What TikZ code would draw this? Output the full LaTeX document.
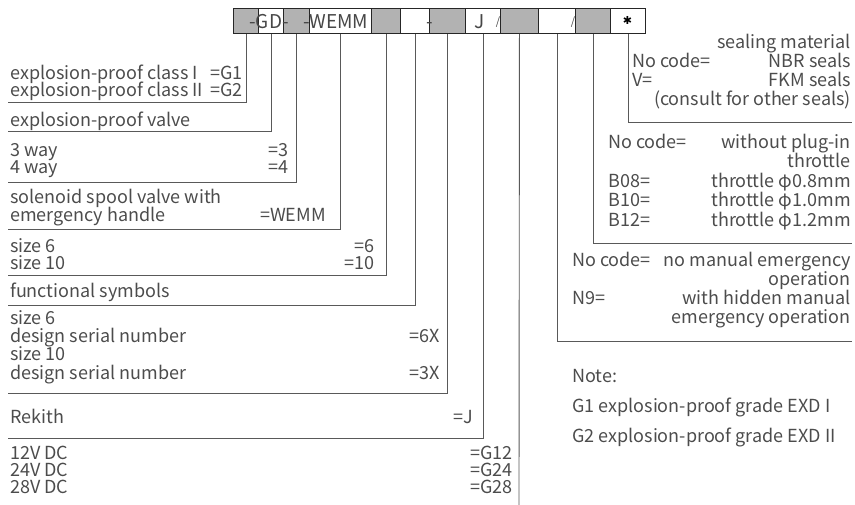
\documentclass[tikz,border=0pt]{standalone}
\usepackage{fontspec}
\setmainfont{Noto Sans CJK SC}
\newfontfamily\djv{DejaVu Sans}
\newcommand{\lbl}{\fontsize{18pt}{19pt}\selectfont}
\newcommand{\cfnt}{\fontsize{19pt}{20pt}\selectfont}
\begin{document}
\begin{tikzpicture}[x=1pt,y=-1pt,
  cell/.style={draw=black!85, line width=0.9pt, minimum height=25pt, inner sep=0pt, anchor=north west},
  cg/.style={cell, fill=gray!60},
  cw/.style={cell, fill=white},
  lead/.style={draw=black!65, line width=0.9pt},
  lt/.style={anchor=base west, inner sep=0pt, text=black!70, font=\lbl},
  rt/.style={anchor=base east, inner sep=0pt, text=black!70, font=\lbl},
  ct/.style={anchor=base, inner sep=0pt, text=black!72, font=\cfnt},
]
\useasboundingbox (0,0) rectangle (855,505);
% code row
\node[cg, minimum width=25pt] (c1) at (233,8) {};
\node[cw, minimum width=25pt] (c2) at (258,8) {};
\node[cg, minimum width=26pt] (c3) at (283,8) {};
\node[cw, minimum width=62pt] (c4) at (309,8) {};
\node[cg, minimum width=29pt] (c5) at (371,8) {};
\node[cw, minimum width=29pt] (c6) at (400,8) {};
\node[cg, minimum width=36pt] (c7) at (429,8) {};
\node[cw, minimum width=35pt] (c8) at (465,8) {};
\node[cg, minimum width=38pt] (c9) at (500,8) {};
\node[cw, minimum width=37pt] (c10) at (538,8) {};
\node[cg, minimum width=35pt] (c11) at (575,8) {};
\node[cw, minimum width=35pt] (c12) at (610,8) {};
% cell texts
\node[ct] (k2) at (269,29) {-GD-};
\node[ct, anchor=base west] (k4) at (303,29) {-WEMM};
\node[ct] (k6) at (430,29) {-};
\node[ct] (k8) at (480,29) {J};
\node[ct, font=\fontsize{11pt}{12pt}\selectfont] (k8s) at (498,26) {/};
\node[ct, font=\fontsize{11pt}{12pt}\selectfont] (k10s) at (573,26) {/};
\node[anchor=center, inner sep=0pt, font=\djv\fontsize{11pt}{12pt}\selectfont] (k12) at (627.5,20.5) {✱};
% leads
\coordinate (L1) at (8,102);
\coordinate (L2) at (8,131);
\coordinate (L3) at (8,182);
\coordinate (L4) at (8,229);
\coordinate (L5) at (8,275);
\coordinate (L6) at (8,305);
\coordinate (L7) at (8,393);
\coordinate (L8) at (8,438);
\coordinate (L9) at (519,505);
\coordinate (R10) at (852,341);
\coordinate (R11) at (852,243);
\coordinate (R12) at (852,122);
\draw[lead] (c1.south) |- (L1);
\draw[lead] (c2.south) |- (L2);
\draw[lead] (c3.south) |- (L3);
\draw[lead] (c4.south) |- (L4);
\draw[lead] (c5.south) |- (L5);
\draw[lead] (c6.south) |- (L6);
\draw[lead] (c7.south) |- (L7);
\draw[lead] (c8.south) |- (L8);
\draw[lead] (c9.south) -- (L9);
\draw[lead] (c10.south) |- (R10);
\draw[lead] (c11.south) |- (R11);
\draw[lead] (c12.south) |- (R12);
% left texts
\node[lt] (a1) at (10,80) {explosion-proof class I};
\node[rt] (a1c) at (243,80) {=G1};
\node[lt] (a2) at (10,97) {explosion-proof class II};
\node[rt] (a2c) at (243,97) {=G2};
\node[lt] (b1) at (10,127) {explosion-proof valve};
\node[lt] (d1) at (10,157) {3 way};
\node[rt] (d1c) at (289,157) {=3};
\node[lt] (d2) at (10,174) {4 way};
\node[rt] (d2c) at (289,174) {=4};
\node[lt] (e1) at (10,204) {solenoid spool valve with};
\node[lt] (e2) at (10,222) {emergency handle};
\node[rt] (e2c) at (326,222) {=WEMM};
\node[lt] (f1) at (10,253) {size 6};
\node[rt] (f1c) at (375,253) {=6};
\node[lt] (f2) at (10,270) {size 10};
\node[rt] (f2c) at (375,270) {=10};
\node[lt] (g1) at (10,298) {functional symbols};
\node[lt] (h1) at (10,325) {size 6};
\node[lt] (h2) at (10,343) {design serial number};
\node[rt] (h2c) at (440,343) {=6X};
\node[lt] (h3) at (10,361) {size 10};
\node[lt] (h4) at (10,380) {design serial number};
\node[rt] (h4c) at (440,380) {=3X};
\node[lt] (i1) at (10,423) {Rekith};
\node[rt] (i1c) at (473,423) {=J};
\node[lt] (j1) at (10,459) {12V DC};
\node[rt] (j1c) at (513,459) {=G12};
\node[lt] (j2) at (10,476) {24V DC};
\node[rt] (j2c) at (513,476) {=G24};
\node[lt] (j3) at (10,493) {28V DC};
\node[rt] (j3c) at (513,493) {=G28};
% right texts: sealing
\node[rt] (s0) at (851,49) {sealing material};
\node[lt] (s1) at (632,68) {No code=};
\node[rt] (s1r) at (851,68) {NBR seals};
\node[lt] (s2) at (632,87) {V=};
\node[rt] (s2r) at (851,87) {FKM seals};
\node[rt] (s3) at (851,106) {(consult for other seals)};
% throttle
\node[lt] (t1) at (608,149) {No code=};
\node[rt] (t1r) at (851,149) {without plug-in};
\node[rt] (t1s) at (851,168) {throttle};
\node[lt] (t2) at (608,188) {B08=};
\node[rt] (t2r) at (851,188) {throttle φ0.8mm};
\node[lt] (t3) at (608,207) {B10=};
\node[rt] (t3r) at (851,207) {throttle φ1.0mm};
\node[lt] (t4) at (608,227) {B12=};
\node[rt] (t4r) at (851,227) {throttle φ1.2mm};
% manual emergency
\node[lt] (m1) at (572,267) {No code=};
\node[rt] (m1r) at (851,267) {no manual emergency};
\node[rt] (m1s) at (851,286) {operation};
\node[lt] (m2) at (572,305) {N9=};
\node[rt] (m2r) at (851,305) {with hidden manual};
\node[rt] (m2s) at (851,324) {emergency operation};
% notes
\node[lt] (n0) at (572,383) {Note:};
\node[lt] (n1) at (572,413) {G1 explosion-proof grade EXD I};
\node[lt] (n2) at (572,442) {G2 explosion-proof grade EXD II};
\end{tikzpicture}
\end{document}
